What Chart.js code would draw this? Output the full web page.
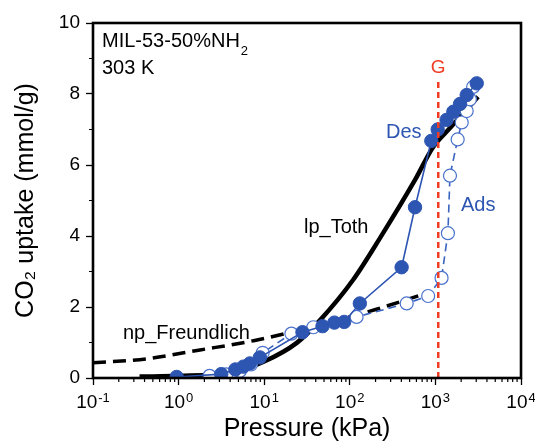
<!DOCTYPE html>
<html>
<head>
<meta charset="utf-8">
<script src="https://cdn.jsdelivr.net/npm/chart.js@4.4.0/dist/chart.umd.min.js"></script>
<style>
  html, body { margin: 0; padding: 0; background: #fff; }
  canvas { display: block; }
</style>
</head>
<body>
<canvas id="isoChart" width="535" height="444"></canvas>
<script>
// desorption branch (filled circles), pressure in kPa, uptake in mmol/g
const desPressure = [0.95, 3.15, 4.6, 5.7, 6.8, 8.9, 28, 48, 66, 86, 131, 403, 578, 896, 1064, 1350, 1620, 1940, 2320, 3040];
const desUptake   = [0.03, 0.11, 0.24, 0.32, 0.41, 0.58, 1.29, 1.46, 1.56, 1.58, 2.10, 3.12, 4.81, 6.68, 7.0, 7.27, 7.5, 7.72, 7.97, 8.30];

// adsorption branch (open circles)
const adsPressure = [2.3, 3.6, 5.2, 7.0, 9.6, 20.8, 37.5, 120, 462, 823, 1180, 1400, 1480, 1820, 2030, 2320, 2530, 2760];
const adsUptake   = [0.06, 0.1, 0.2, 0.38, 0.71, 1.25, 1.43, 1.72, 2.10, 2.31, 2.82, 4.08, 5.7, 6.72, 7.2, 7.52, 7.85, 8.2];

// fitted curves
const tothPressure = [0.35, 1.0, 4.0, 9.7, 24, 45, 109, 225, 578, 938, 1480, 3150];
const tothUptake   = [0.04, 0.06, 0.14, 0.45, 0.99, 1.63, 2.76, 3.94, 5.58, 6.5, 7.04, 7.92];
const freuPressure = [0.1, 0.42, 1.78, 7.5, 37.5, 200, 660];
const freuUptake   = [0.43, 0.54, 0.79, 1.05, 1.45, 1.93, 2.33];

// gate opening pressure (red dashed line)
const gatePressure = [1080, 1080];
const gateUptake   = [0, 8.4];

const xTickValues = [0.1, 1, 10, 100, 1000, 10000];
const xTickExponents = ['-1', '0', '1', '2', '3', '4'];

const FONT = "'Liberation Sans', Arial, Helvetica, sans-serif";
const BLUE = '#2d55b2';
const RED = '#f03c22';

function pts(xs, ys) {
  return xs.map((v, i) => ({ x: v, y: ys[i] }));
}

const decorations = {
  id: 'decorations',
  afterDraw(chart) {
    const { ctx, chartArea: a, scales: { x, y } } = chart;
    ctx.save();
    // minor ticks
    ctx.strokeStyle = '#000';
    ctx.lineWidth = 1.2;
    ctx.beginPath();
    for (let d = -1; d < 4; d++) {
      for (let m = 2; m < 10; m++) {
        const px = x.getPixelForValue(m * Math.pow(10, d));
        ctx.moveTo(px, a.bottom);
        ctx.lineTo(px, a.bottom + 4);
      }
    }
    for (let v = 1; v < 10; v += 2) {
      const py = y.getPixelForValue(v);
      ctx.moveTo(a.left, py);
      ctx.lineTo(a.left - 4, py);
    }
    ctx.stroke();

    // frame
    ctx.lineWidth = 2.6;
    ctx.strokeRect(a.left, a.top, a.right - a.left, a.bottom - a.top);

    // x tick labels as 10 with superscript exponent
    ctx.fillStyle = '#000';
    ctx.textAlign = 'left';
    ctx.textBaseline = 'alphabetic';
    x.ticks.forEach((t, i) => {
      const px = x.getPixelForValue(t.value);
      ctx.font = '19px ' + FONT;
      const wb = ctx.measureText('10').width;
      ctx.font = '13px ' + FONT;
      const we = ctx.measureText(xTickExponents[i]).width;
      const x0 = px - (wb + 1 + we) / 2;
      ctx.font = '19px ' + FONT;
      ctx.fillText('10', x0, a.bottom + 30);
      ctx.font = '13px ' + FONT;
      ctx.fillText(xTickExponents[i], x0 + wb + 1, a.bottom + 23.5);
    });

    // labels
    ctx.fillStyle = '#000';
    ctx.font = '20px ' + FONT;
    ctx.fillText('MIL-53-50%NH', 102, 47);
    const w = ctx.measureText('MIL-53-50%NH').width;
    ctx.font = '13px ' + FONT;
    ctx.fillText('2', 102 + w + 1, 55);
    ctx.font = '20px ' + FONT;
    ctx.fillText('303 K', 102, 74);
    ctx.fillText('lp_Toth', 304, 233);
    ctx.fillText('np_Freundlich', 123, 339);

    ctx.fillStyle = BLUE;
    ctx.fillText('Des', 386, 138);
    ctx.fillText('Ads', 461, 211);

    ctx.fillStyle = RED;
    ctx.font = '19px ' + FONT;
    ctx.textAlign = 'center';
    ctx.fillText('G', x.getPixelForValue(gatePressure[0]), 73);
    ctx.restore();
  }
};

Chart.defaults.font.family = FONT;
Chart.defaults.color = '#000';

new Chart(document.getElementById('isoChart').getContext('2d'), {
  type: 'scatter',
  data: {
    datasets: [
      {
        label: 'G',
        data: pts(gatePressure, gateUptake),
        showLine: true,
        borderColor: RED,
        borderWidth: 2.5,
        borderDash: [6, 4],
        pointRadius: 0,
        order: 0
      },
      {
        label: 'Des',
        data: pts(desPressure, desUptake),
        showLine: true,
        borderColor: BLUE,
        borderWidth: 1.6,
        pointRadius: 6.7,
        pointBackgroundColor: BLUE,
        pointBorderColor: BLUE,
        pointBorderWidth: 1,
        order: 1
      },
      {
        label: 'Ads',
        data: pts(adsPressure, adsUptake),
        showLine: true,
        borderColor: '#3a64c0',
        borderWidth: 1.6,
        borderDash: [8, 5],
        pointRadius: 6.5,
        pointBackgroundColor: '#fff',
        pointBorderColor: '#4a72cc',
        pointBorderWidth: 1.2,
        order: 2
      },
      {
        label: 'lp_Toth',
        data: pts(tothPressure, tothUptake),
        showLine: true,
        borderColor: '#000',
        borderWidth: 4.5,
        pointRadius: 0,
        cubicInterpolationMode: 'monotone',
        order: 3
      },
      {
        label: 'np_Freundlich',
        data: pts(freuPressure, freuUptake),
        showLine: true,
        borderColor: '#000',
        borderWidth: 3.5,
        borderDash: [13, 7],
        pointRadius: 0,
        cubicInterpolationMode: 'monotone',
        order: 4
      }
    ]
  },
  options: {
    responsive: false,
    animation: false,
    devicePixelRatio: 1,
    layout: { padding: { top: 23, right: 14, bottom: 0, left: 0 } },
    plugins: {
      legend: { display: false },
      tooltip: { enabled: false }
    },
    scales: {
      x: {
        type: 'logarithmic',
        min: 0.1,
        max: 10000,
        afterBuildTicks: (scale) => {
          scale.ticks = xTickValues.map(v => ({ value: v, major: true }));
        },
        afterFit: (scale) => {
          scale.height = 66;
          scale.paddingLeft = 0;
          scale.paddingRight = 0;
        },
        ticks: {
          autoSkip: false,
          maxRotation: 0,
          padding: 5,
          font: { size: 19 },
          callback: () => ''
        },
        grid: {
          drawOnChartArea: false,
          drawTicks: true,
          tickLength: 7,
          tickWidth: 1.3,
          tickColor: '#000'
        },
        border: { display: false },
        title: {
          display: true,
          text: 'Pressure (kPa)',
          font: { size: 25 },
          color: '#000',
          padding: { top: 0, bottom: 0 }
        }
      },
      y: {
        min: 0,
        max: 10,
        afterFit: (scale) => {
          scale.width = 93;
          scale.paddingTop = 0;
          scale.paddingBottom = 0;
        },
        ticks: {
          stepSize: 2,
          padding: 6,
          font: { size: 19 },
          color: '#000'
        },
        grid: {
          drawOnChartArea: false,
          drawTicks: true,
          tickLength: 7,
          tickWidth: 1.3,
          tickColor: '#000'
        },
        border: { display: false },
        title: {
          display: true,
          text: 'CO\u2082 uptake (mmol/g)',
          font: { size: 25 },
          color: '#000',
          padding: { top: 11, bottom: 0 }
        }
      }
    }
  },
  plugins: [decorations]
});
</script>
</body>
</html>
